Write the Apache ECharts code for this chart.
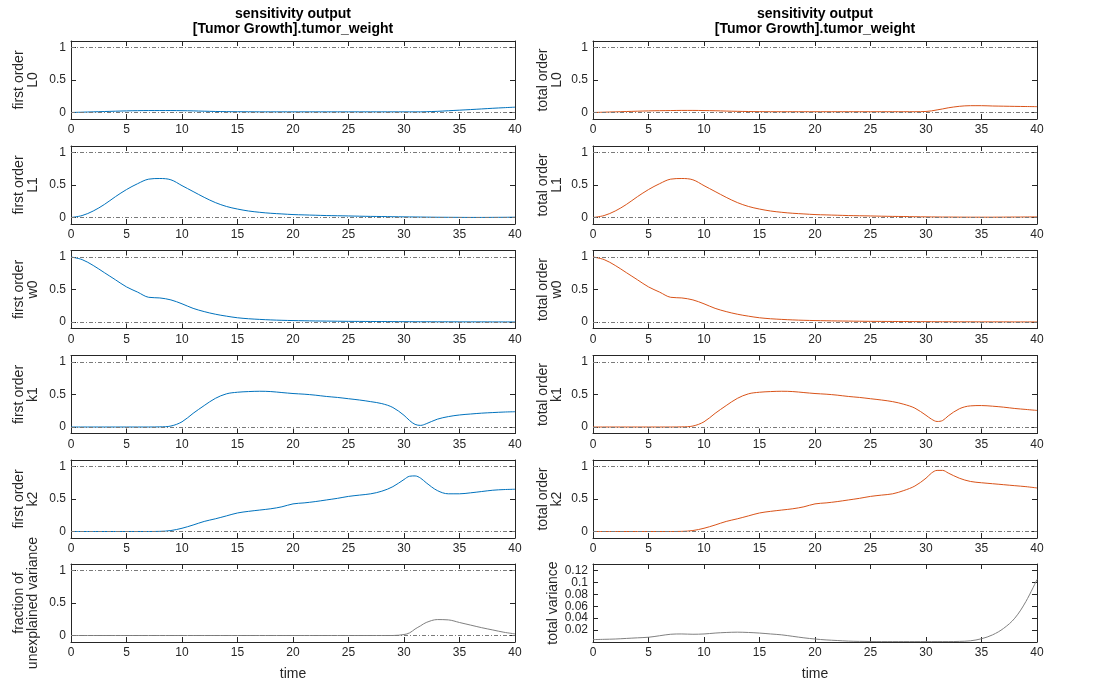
<!DOCTYPE html>
<html><head><meta charset="utf-8">
<script src="https://cdn.jsdelivr.net/npm/echarts@6/dist/echarts.min.js"></script>
<style>html,body{margin:0;padding:0;background:#fff}#c{width:1098px;height:686px}</style>
</head><body><div id="c"></div>
<script>
// ---------- data ----------
const time = [0,1,2,3,4,5,6,7,8,9,10,11,12,13,14,15,16,17,18,19,20,21,22,23,24,25,26,27,28,29,30,30.5,31,31.5,32,33,34,35,36,37,38,39,40];
const xTicks = [0,5,10,15,20,25,30,35,40];
const yTicks = [0,0.5,1];
const varTicks = [0.02,0.04,0.06,0.08,0.1,0.12];
const titleText = 'sensitivity output\n[Tumor Growth].tumor_weight';
const leftNames = ['first order\nL0','first order\nL1','first order\nw0','first order\nk1','first order\nk2','fraction of\nunexplained variance'];
const rightNames = ['total order\nL0','total order\nL1','total order\nw0','total order\nk1','total order\nk2','total variance'];
const xName = 'time';

const firstL0 = [0,0.005,0.01,0.015,0.02,0.025,0.028,0.03,0.03,0.03,0.028,0.025,0.02,0.016,0.013,0.012,0.011,0.01,0.01,0.01,0.01,0.01,0.01,0.01,0.01,0.01,0.01,0.01,0.01,0.01,0.01,0.01,0.01,0.01,0.012,0.018,0.027,0.036,0.045,0.055,0.065,0.074,0.082];
const totalL0 = [0,0.005,0.01,0.015,0.02,0.025,0.028,0.03,0.032,0.032,0.03,0.027,0.022,0.018,0.015,0.013,0.012,0.012,0.012,0.012,0.012,0.012,0.012,0.012,0.012,0.012,0.012,0.012,0.012,0.012,0.016,0.025,0.04,0.055,0.072,0.095,0.105,0.105,0.1,0.097,0.094,0.092,0.09];
const firstL1 = [0,0.03,0.1,0.2,0.32,0.43,0.52,0.59,0.6,0.58,0.49,0.4,0.31,0.23,0.17,0.13,0.1,0.08,0.065,0.055,0.045,0.04,0.035,0.03,0.027,0.024,0.02,0.017,0.015,0.012,0.01,0.009,0.008,0.007,0.006,0.004,0.003,0.002,0.001,0.001,0.002,0.003,0.005];
const totalL1 = [0,0.03,0.1,0.2,0.32,0.43,0.52,0.59,0.6,0.58,0.49,0.4,0.31,0.23,0.17,0.13,0.1,0.08,0.065,0.055,0.045,0.04,0.035,0.03,0.027,0.024,0.02,0.017,0.015,0.012,0.01,0.009,0.008,0.007,0.007,0.006,0.005,0.005,0.005,0.006,0.007,0.008,0.01];
const firstW0 = [1.0,0.96,0.87,0.76,0.65,0.54,0.46,0.38,0.37,0.34,0.28,0.21,0.16,0.12,0.09,0.065,0.05,0.04,0.032,0.026,0.022,0.019,0.016,0.014,0.012,0.01,0.009,0.008,0.007,0.006,0.005,0.005,0.004,0.004,0.004,0.003,0.003,0.002,0.002,0.002,0.001,0.001,0.001];
const totalW0 = [1.0,0.96,0.87,0.76,0.65,0.54,0.46,0.38,0.37,0.34,0.28,0.21,0.16,0.12,0.09,0.065,0.05,0.04,0.032,0.026,0.022,0.019,0.016,0.014,0.012,0.01,0.009,0.008,0.007,0.006,0.005,0.005,0.004,0.004,0.004,0.003,0.003,0.002,0.002,0.002,0.001,0.001,0.001];
const firstK1 = [0,0,0,0,0,0,0,0,0.002,0.015,0.08,0.21,0.33,0.44,0.51,0.535,0.545,0.55,0.545,0.53,0.515,0.505,0.49,0.47,0.455,0.435,0.415,0.39,0.36,0.3,0.18,0.1,0.04,0.025,0.05,0.12,0.16,0.185,0.2,0.213,0.222,0.23,0.235];
const totalK1 = [0,0,0,0,0,0,0,0,0.002,0.015,0.08,0.21,0.33,0.44,0.51,0.535,0.545,0.55,0.545,0.53,0.515,0.505,0.49,0.47,0.455,0.435,0.415,0.39,0.35,0.29,0.18,0.12,0.085,0.1,0.17,0.28,0.325,0.33,0.32,0.305,0.285,0.27,0.255];
const firstK2 = [0,0,0,0,0,0,0,0,0.002,0.015,0.05,0.1,0.155,0.195,0.24,0.285,0.31,0.33,0.35,0.38,0.425,0.44,0.46,0.485,0.51,0.54,0.56,0.58,0.62,0.69,0.8,0.85,0.855,0.82,0.75,0.63,0.58,0.58,0.595,0.615,0.635,0.645,0.65];
const totalK2 = [0,0,0,0,0,0,0,0,0.002,0.015,0.05,0.1,0.155,0.195,0.24,0.285,0.31,0.33,0.35,0.38,0.425,0.44,0.46,0.485,0.51,0.54,0.56,0.58,0.63,0.7,0.82,0.9,0.94,0.94,0.9,0.82,0.77,0.75,0.735,0.72,0.705,0.69,0.67];
const fracUnexplained = [0,0,0,0,0,0,0,0,0,0,0,0,0,0,0,0,0,0,0,0,0,0,0,0,0,0,0,0,0,0,0.015,0.04,0.1,0.15,0.2,0.245,0.24,0.2,0.16,0.12,0.085,0.05,0.025];
const totalVariance = [0.004,0.0045,0.005,0.006,0.007,0.008,0.0105,0.013,0.0135,0.013,0.0135,0.015,0.016,0.0165,0.016,0.015,0.0135,0.012,0.0095,0.007,0.005,0.0035,0.0025,0.0015,0.001,0.0008,0.0007,0.0007,0.0007,0.0007,0.0007,0.0007,0.0007,0.0007,0.0007,0.001,0.002,0.0055,0.012,0.023,0.04,0.068,0.105];

const leftSeries = [firstL0, firstL1, firstW0, firstK1, firstK2, fracUnexplained];
const rightSeries = [totalL0, totalL1, totalW0, totalK1, totalK2, totalVariance];

// ---------- layout / style ----------
const FONT = '"Liberation Sans", Arial, Helvetica, sans-serif';
const AX = '#262626';
const BLUE = '#0072BD', ORANGE = '#D95319', GRAY = '#808080';
const rowTops = [41, 146, 250.5, 355.5, 460, 564];
const colLefts = [71, 593];
const W = 444, H = 78;

const grids = [], xAxes = [], yAxes = [], series = [];
let gi = 0;
for (let c = 0; c < 2; c++) {
  for (let r = 0; r < 6; r++) {
    const isVar = (c === 1 && r === 5);
    const vals = c === 0 ? leftSeries[r] : rightSeries[r];
    const color = r === 5 ? GRAY : (c === 0 ? BLUE : ORANGE);
    grids.push({left: colLefts[c], top: rowTops[r], width: W, height: H, containLabel: false});
    const xBase = {gridIndex: gi, type: 'value', min: 0, max: 40, interval: 5,
      axisLine: {show: true, onZero: false, lineStyle: {color: AX, width: 1}},
      axisTick: {show: true, inside: true, length: 5, lineStyle: {color: AX}},
      splitLine: {show: false}};
    xAxes.push(Object.assign({}, xBase, {position: 'bottom',
      axisLabel: {show: true, color: AX, fontFamily: FONT, fontSize: 12, margin: 5},
      name: r === 5 ? xName : '', nameLocation: 'middle', nameGap: 25,
      nameTextStyle: {color: AX, fontFamily: FONT, fontSize: 14}}));
    xAxes.push(Object.assign({}, xBase, {position: 'top', axisLabel: {show: false}}));
    const ticks = isVar ? varTicks : yTicks;
    const yBase = {gridIndex: gi, type: 'value',
      min: isVar ? 0 : -0.1, max: isVar ? 0.131 : 1.1,
      axisLine: {show: true, onZero: false, lineStyle: {color: AX, width: 1}},
      axisTick: {show: true, inside: true, length: 5, customValues: ticks, lineStyle: {color: AX}},
      splitLine: {show: false}};
    const yName = c === 0 ? leftNames[r] : rightNames[r];
    let gap = c === 0 ? 31 : 29;
    if (isVar) gap = 33;
    yAxes.push(Object.assign({}, yBase, {position: 'left',
      axisLabel: {show: true, customValues: ticks, color: AX, fontFamily: FONT, fontSize: 12, margin: 5},
      name: yName, nameLocation: 'middle', nameRotate: 90, nameGap: gap,
      nameTextStyle: {color: AX, fontFamily: FONT, fontSize: 14, lineHeight: 14}}));
    yAxes.push(Object.assign({}, yBase, {position: 'right', axisLabel: {show: false}}));
    const s = {type: 'line', xAxisIndex: 2 * gi, yAxisIndex: 2 * gi,
      data: time.map((t, k) => [t, vals[k]]),
      showSymbol: false, symbol: 'none', smooth: 0.35, silent: true,
      lineStyle: {color: color, width: 1}, itemStyle: {color: color}};
    if (!isVar) {
      s.markLine = {silent: true, symbol: 'none', label: {show: false},
        lineStyle: {color: '#7a7a7a', type: [4, 2, 1, 2], width: 1},
        data: [{yAxis: 0}, {yAxis: 1}]};
    }
    series.push(s);
    gi++;
  }
}

const chart = echarts.init(document.getElementById('c'), null, {renderer: 'canvas'});
chart.setOption({
  animation: false,
  backgroundColor: '#fff',
  graphic: [
    {type: 'text', x: 293, y: 7, style: {text: titleText, textAlign: 'center', fill: '#000', font: 'bold 14px ' + FONT, lineHeight: 15}},
    {type: 'text', x: 815, y: 7, style: {text: titleText, textAlign: 'center', fill: '#000', font: 'bold 14px ' + FONT, lineHeight: 15}}
  ],
  grid: grids,
  xAxis: xAxes,
  yAxis: yAxes,
  series: series
});
</script>
</body></html>
